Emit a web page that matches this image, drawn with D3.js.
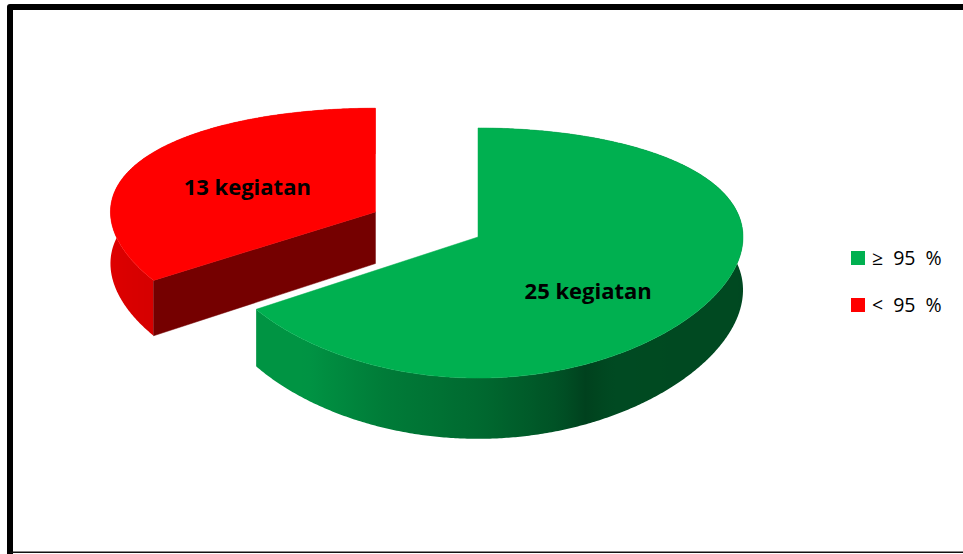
<!DOCTYPE html>
<html>
<head>
<meta charset="utf-8">
<script src="https://cdn.jsdelivr.net/npm/d3@7"></script>
<style>
  html, body { margin: 0; padding: 0; background: #fff; }
  svg { display: block; }
</style>
</head>
<body>
<svg id="chart" width="963" height="554"></svg>
<script>
// Data
const categories = ["\u2265 95 %", "< 95 %"];
const values = [25, 13];
const valueLabels = ["25 kegiatan", "13 kegiatan"];
const sliceColors = ["#00B050", "#FF0000"];
const explodeAmount = [0, 0.44];

const W = 963, H = 554;
const svg = d3.select("#chart");
const defs = svg.append("defs");

// Frame
svg.append("path")
  .attr("d", `M10,${H + 2} V7 H${W + 10}`)
  .attr("fill", "none").attr("stroke", "#000").attr("stroke-width", 6)
  .attr("stroke-linejoin", "round");
svg.append("line")
  .attr("x1", 10).attr("x2", W).attr("y1", 552.3).attr("y2", 552.3)
  .attr("stroke", "#111").attr("stroke-width", 1.4);

// 3D pie geometry (tilted disc, perspective on the depth axis)
const cx = 478, cy = 237, Rx = 265, Ry = 123, py = 0.128, depth = 53;
function proj(X, Z, bottom) {
  const ky = 1 / (1 + py * Z);
  return [cx + Rx * X, cy - Ry * Z * ky + (bottom ? depth * ky : 0)];
}

// Side shading as a function of the outward normal angle (degrees, clockwise from top)
const shade = d3.scaleLinear()
  .domain([0, 90, 150, 156, 162, 180, 200, 220, 240, 270, 360])
  .range([0.9, 0.41, 0.42, 0.37, 0.46, 0.60, 0.70, 0.84, 0.84, 0.88, 0.9])
  .clamp(true);
function tint(color, f) {
  const c = d3.rgb(color);
  return d3.rgb(c.r * f, c.g * f, c.b * f).formatHex();
}

const arcs = d3.pie().sort(null).value(d => d)(values);
const deg = 180 / Math.PI;
const pieG = svg.append("g");

arcs.forEach((a, i) => {
  const mid = (a.startAngle + a.endAngle) / 2;
  const ox = explodeAmount[i] * Math.sin(mid);
  const oz = explodeAmount[i] * Math.cos(mid);
  const disc = (t, r) => [ox + r * Math.sin(t), oz + r * Math.cos(t)];
  const g = pieG.append("g").attr("class", "slice");
  const n = Math.max(8, Math.ceil((a.endAngle - a.startAngle) * deg * 2));
  const angleAt = k => a.startAngle + (a.endAngle - a.startAngle) * k / n;

  // horizontal shading gradient over the front-facing part of the rim
  const f0 = Math.max(a.startAngle, Math.PI / 2), f1 = Math.min(a.endAngle, 1.5 * Math.PI);
  const stops = [];
  for (let k = 0; k <= 60; k++) {
    const t = f0 + (f1 - f0) * k / 60;
    const [X, Z] = disc(t, 1);
    stops.push({ x: proj(X, Z, false)[0], c: tint(sliceColors[i], shade(t * deg)) });
  }
  stops.sort((p, q) => p.x - q.x);
  const x0 = stops[0].x, x1 = stops[stops.length - 1].x;
  const grad = defs.append("linearGradient")
    .attr("id", "side" + i).attr("gradientUnits", "userSpaceOnUse")
    .attr("x1", x0).attr("x2", x1).attr("y1", 0).attr("y2", 0);
  grad.selectAll("stop").data(stops).join("stop")
    .attr("offset", d => (x1 > x0 ? (d.x - x0) / (x1 - x0) : 0))
    .attr("stop-color", d => d.c);

  // outer curved side band
  const topRim = [], botRim = [];
  for (let k = 0; k <= n; k++) {
    const [X, Z] = disc(angleAt(k), 1);
    topRim.push(proj(X, Z, false));
    botRim.push(proj(X, Z, true));
  }
  const band = topRim.concat(botRim.slice().reverse());
  g.append("path")
    .attr("d", "M" + band.map(p => p.join(",")).join("L") + "Z")
    .attr("fill", `url(#side${i})`);

  // radial cut faces that face the viewer
  const faces = [
    { t: a.startAngle, normal: a.startAngle - Math.PI / 2 },
    { t: a.endAngle, normal: a.endAngle + Math.PI / 2 }
  ].filter(f => Math.cos(f.normal) < -0.01);
  faces.forEach(f => {
    const [Xr, Zr] = disc(f.t, 1);
    const pts = [proj(ox, oz, false), proj(Xr, Zr, false), proj(Xr, Zr, true), proj(ox, oz, true)];
    g.append("path")
      .attr("d", "M" + pts.map(p => p.join(",")).join("L") + "Z")
      .attr("fill", tint(sliceColors[i], 0.46))
      .attr("stroke", tint(sliceColors[i], 0.46)).attr("stroke-width", 0.5);
  });

  // top face
  const apex = proj(ox, oz, false);
  g.append("path")
    .attr("d", "M" + apex.join(",") + "L" + topRim.map(p => p.join(",")).join("L") + "Z")
    .attr("fill", sliceColors[i])
    .attr("stroke", sliceColors[i]).attr("stroke-width", 0.5);
});

// value labels
const labelShift = [[-18, 21], [0, 5]];
arcs.forEach((a, i) => {
  const mid = (a.startAngle + a.endAngle) / 2;
  const ox = explodeAmount[i] * Math.sin(mid);
  const oz = explodeAmount[i] * Math.cos(mid);
  const p = proj(ox + 0.55 * Math.sin(mid), oz + 0.55 * Math.cos(mid), false);
  svg.append("text")
    .attr("x", p[0] + labelShift[i][0])
    .attr("y", p[1] + labelShift[i][1])
    .attr("dy", "0.35em")
    .attr("text-anchor", "middle")
    .attr("font-family", "'Open Sans', sans-serif")
    .attr("font-weight", 700)
    .attr("font-size", 22)
    .attr("fill", "#000")
    .text(valueLabels[i]);
});

// legend
const legend = svg.append("g").attr("transform", "translate(851,251)");
const item = legend.selectAll("g").data(categories).join("g")
  .attr("transform", (d, i) => `translate(0,${i * 47})`);
item.append("rect")
  .attr("width", 14).attr("height", 14)
  .attr("fill", (d, i) => sliceColors[i]);
item.append("text")
  .attr("x", 21).attr("y", 14)
  .attr("font-family", "'Open Sans', sans-serif")
  .attr("font-size", 19.5)
  .attr("word-spacing", 5)
  .attr("fill", "#000")
  .text(d => d);
</script>
</body>
</html>
